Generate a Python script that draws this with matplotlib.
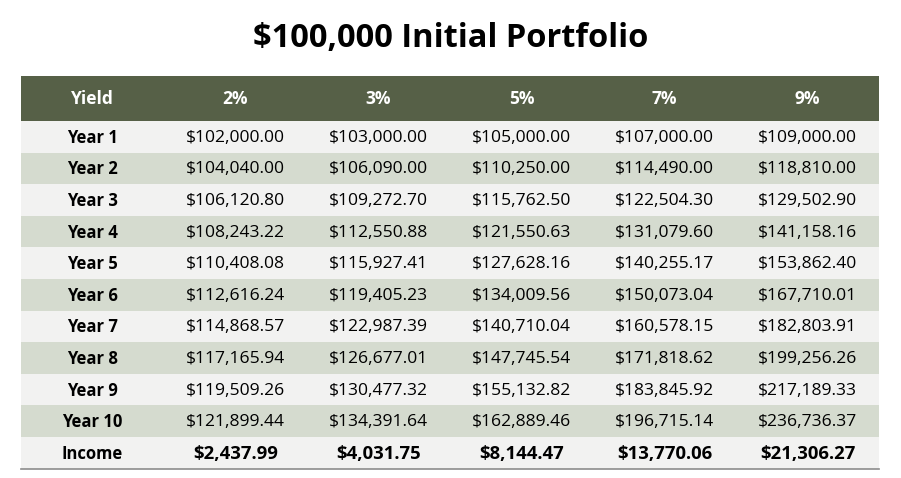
import matplotlib
matplotlib.use("Agg")
import matplotlib.pyplot as plt
from matplotlib.patches import Rectangle

title = "$100,000 Initial Portfolio"
header = ["Yield", "2%", "3%", "5%", "7%", "9%"]
years = ["Year %d" % i for i in range(1, 11)]
y2 = ["$102,000.00", "$104,040.00", "$106,120.80", "$108,243.22", "$110,408.08",
      "$112,616.24", "$114,868.57", "$117,165.94", "$119,509.26", "$121,899.44"]
y3 = ["$103,000.00", "$106,090.00", "$109,272.70", "$112,550.88", "$115,927.41",
      "$119,405.23", "$122,987.39", "$126,677.01", "$130,477.32", "$134,391.64"]
y5 = ["$105,000.00", "$110,250.00", "$115,762.50", "$121,550.63", "$127,628.16",
      "$134,009.56", "$140,710.04", "$147,745.54", "$155,132.82", "$162,889.46"]
y7 = ["$107,000.00", "$114,490.00", "$122,504.30", "$131,079.60", "$140,255.17",
      "$150,073.04", "$160,578.15", "$171,818.62", "$183,845.92", "$196,715.14"]
y9 = ["$109,000.00", "$118,810.00", "$129,502.90", "$141,158.16", "$153,862.40",
      "$167,710.01", "$182,803.91", "$199,256.26", "$217,189.33", "$236,736.37"]
income = ["$2,437.99", "$4,031.75", "$8,144.47", "$13,770.06", "$21,306.27"]

# table geometry in pixels
left, right = 21, 879
top, head_h, row_h = 76, 45, 31.6
col_w = (right - left) / len(header)

font = "Open Sans"
fig = plt.figure(figsize=(9.01, 4.78), dpi=100)
ax = fig.add_axes([0, 0, 1, 1])
ax.set_xlim(0, 901)
ax.set_ylim(478, 0)
ax.axis("off")

ax.text(451, 38, title, ha="center", va="center", fontsize=23.5, fontweight="bold",
        family=font, color="black")

ax.add_patch(Rectangle((left, top), right - left, head_h, color="#566047", lw=0))
for j, h in enumerate(header):
    ax.text(left + col_w * (j + 0.5), top + head_h / 2, h, ha="center", va="center",
            fontsize=12.5, fontweight="bold", color="white", family=font)

cols = [y2, y3, y5, y7, y9]
rows = [[years[i]] + [c[i] for c in cols] for i in range(len(years))]
rows.append(["Income"] + income)
for i, r in enumerate(rows):
    y0 = top + head_h + i * row_h
    fc = "#f2f2f1" if i % 2 == 0 else "#d5dbcf"
    ax.add_patch(Rectangle((left, y0), right - left, row_h, color=fc, lw=0))
    last = i == len(rows) - 1
    for j, v in enumerate(r):
        if j == 0:
            fs, fw = 12, "bold"
        elif last:
            fs, fw = 13.3, "bold"
        else:
            fs, fw = 12.6, "normal"
        ax.text(left + col_w * (j + 0.5), y0 + row_h / 2 + 1, v, ha="center", va="center",
                fontsize=fs, fontweight=fw, color="black", family=font)

ybot = top + head_h + len(rows) * row_h
ax.plot([left, right], [ybot, ybot], color="#8c8c8c", lw=1.2)

fig.savefig("out.png", dpi=100)
